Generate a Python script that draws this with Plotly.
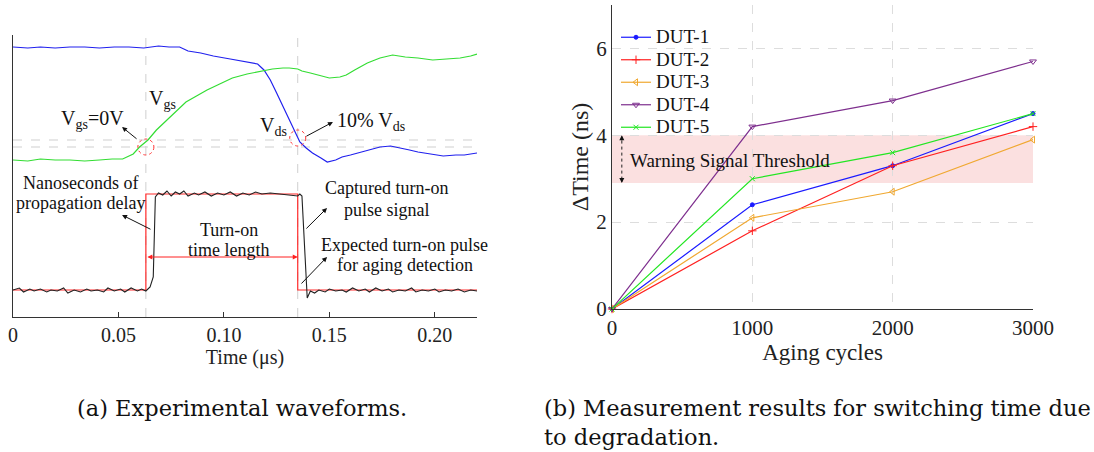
import plotly.graph_objects as go

W, H = 1094, 452
FONT = "Liberation Serif"

# ---------------- (a) waveforms (time in us, level in arbitrary units) -------------
vds_t = [0, 0.007, 0.013, 0.020, 0.027, 0.034, 0.041, 0.048, 0.055, 0.062, 0.069, 0.074, 0.079,
         0.083, 0.089, 0.095, 0.103, 0.112, 0.116, 0.119, 0.122, 0.125, 0.128, 0.131, 0.134,
         0.136, 0.139, 0.142, 0.146, 0.149, 0.153, 0.156, 0.160, 0.165, 0.169, 0.174, 0.179,
         0.184, 0.188, 0.192, 0.198, 0.204, 0.210, 0.214, 0.220]
vds_v = [270, 269, 270, 269, 270, 270, 269, 270, 270, 269, 271, 270, 270,
         266, 264, 261, 258, 255, 253, 247, 237, 224, 211, 197, 185,
         175, 169, 164, 159, 155, 157, 160, 162, 165, 167, 170, 171,
         169, 167, 165, 163, 161, 162, 162, 164]

vgs_t = [0, 0.007, 0.013, 0.020, 0.027, 0.034, 0.041, 0.047, 0.052, 0.057, 0.060, 0.064, 0.068,
         0.073, 0.078, 0.082, 0.087, 0.092, 0.098, 0.104, 0.111, 0.118, 0.123, 0.128, 0.131,
         0.135, 0.137, 0.141, 0.146, 0.150, 0.155, 0.158, 0.162, 0.168, 0.174, 0.180, 0.186,
         0.192, 0.199, 0.205, 0.212, 0.217, 0.220]
vgs_v = [157, 156, 158, 157, 157, 156, 157, 158, 158, 163, 170, 177, 187,
         197, 206, 215, 221, 227, 233, 239, 243, 246, 248, 249, 249,
         248, 246, 244, 241, 239, 240, 242, 247, 254, 259, 262, 260,
         259, 257, 258, 259, 261, 263]

exp_t = [0, 0.063, 0.063, 0.135, 0.135, 0.220]
exp_v = [27, 27, 123, 123, 27, 27]

cap_t = [0.000, 0.003, 0.005, 0.008, 0.010, 0.013, 0.016, 0.018, 0.021, 0.024, 0.026, 0.029,
         0.032, 0.035, 0.037, 0.040, 0.043, 0.045, 0.048, 0.051, 0.053, 0.056, 0.059, 0.061,
         0.063, 0.065, 0.0665, 0.0675, 0.069, 0.071, 0.073, 0.075, 0.077, 0.079, 0.081, 0.083,
         0.086, 0.088, 0.091, 0.094, 0.097, 0.100, 0.103, 0.106, 0.109, 0.112, 0.115, 0.118,
         0.122, 0.126, 0.130, 0.133, 0.135, 0.136, 0.137, 0.1385, 0.1395, 0.141, 0.143, 0.145,
         0.148, 0.150, 0.153, 0.156, 0.158, 0.161, 0.164, 0.167, 0.169, 0.172, 0.175, 0.178,
         0.180, 0.183, 0.186, 0.189, 0.191, 0.194, 0.197, 0.200, 0.202, 0.205, 0.208, 0.211,
         0.214, 0.217, 0.220]
cap_v = [27, 29, 25, 28, 26, 28, 25, 27, 26, 29, 24, 27,
         25, 28, 26, 27, 25, 29, 26, 28, 25, 29, 26, 28,
         26, 30, 40, 120, 124, 122, 126, 121, 125, 123, 126, 121,
         124, 122, 125, 121, 124, 122, 125, 121, 124, 122, 125, 123,
         124, 123, 122, 122, 121, 123, 121, 60, 19, 26, 24, 27,
         25, 28, 26, 27, 25, 29, 26, 28, 25, 29, 26, 28,
         25, 27, 26, 29, 25, 27, 26, 28, 25, 27, 26, 28,
         25, 27, 26]

t_ticks = [0, 0.05, 0.10, 0.15, 0.20]
t_tick_text = ["0", "0.05", "0.10", "0.15", "0.20"]
t_marks = [0.063, 0.135]          # vertical dashed reference times
level_marks = [170, 177]          # horizontal dashed reference levels

# ---------------- (b) switching time vs aging ----------------
cycles = [0, 1000, 2000, 3000]
duts = ["DUT-1", "DUT-2", "DUT-3", "DUT-4", "DUT-5"]
dt_values = [
    [0, 2.4, 3.3, 4.5],
    [0, 1.8, 3.3, 4.2],
    [0, 2.1, 2.7, 3.9],
    [0, 4.2, 4.8, 5.7],
    [0, 3.0, 3.6, 4.5],
]
dut_colors = ["#1a1aff", "#ff2020", "#f0a830", "#7e2f8e", "#22e622"]
dut_symbols = ["circle", "cross-thin", "triangle-left-open", "triangle-down-open", "x-thin"]
dut_sizes = [4, 6, 6, 6, 5]
warn_low, warn_high = 2.9, 4.0

fig = go.Figure()

# (a) traces
fig.add_trace(go.Scatter(x=vds_t, y=vds_v, mode="lines", line=dict(color="#2020ee", width=1.2),
                         showlegend=False, xaxis="x", yaxis="y"))
fig.add_trace(go.Scatter(x=vgs_t, y=vgs_v, mode="lines", line=dict(color="#33dd33", width=1.2),
                         showlegend=False, xaxis="x", yaxis="y"))
fig.add_trace(go.Scatter(x=exp_t, y=exp_v, mode="lines", line=dict(color="#ff2a2a", width=1.2),
                         showlegend=False, xaxis="x", yaxis="y"))
fig.add_trace(go.Scatter(x=cap_t, y=cap_v, mode="lines", line=dict(color="#222222", width=1.1),
                         showlegend=False, xaxis="x", yaxis="y"))

# (b) traces
for name, vals, col, sym, sz in zip(duts, dt_values, dut_colors, dut_symbols, dut_sizes):
    fig.add_trace(go.Scatter(
        x=cycles, y=vals, mode="lines+markers",
        name="<span style='font-size:19px'>%s</span>" % name,
        line=dict(color=col, width=1.2),
        marker=dict(symbol=sym, size=sz, color=col, line=dict(color=col, width=1)),
        cliponaxis=False, xaxis="x2", yaxis="y2"))

shapes = []
# (a) reference lines
for tm in t_marks:
    shapes.append(dict(type="line", xref="x", yref="y", x0=tm, x1=tm, y0=0, y1=282,
                       line=dict(color="#cfcfcf", width=1, dash="dash"), layer="below"))
for lm in level_marks:
    shapes.append(dict(type="line", xref="x", yref="y", x0=0, x1=0.22, y0=lm, y1=lm,
                       line=dict(color="#cfcfcf", width=1, dash="dash"), layer="below"))
# red dotted circles
for (cx, cy) in [(0.063, 170), (0.135, 179)]:
    shapes.append(dict(type="circle", xref="x", yref="y", x0=cx - 0.0038, x1=cx + 0.0038,
                       y0=cy - 8, y1=cy + 8, line=dict(color="#ff3333", width=1, dash="dot")))
# (b) warning band
shapes.append(dict(type="rect", xref="x2", yref="y2", x0=0, x1=3000, y0=warn_low, y1=warn_high,
                   fillcolor="#fbe0e0", line=dict(width=0), layer="below"))
shapes.append(dict(type="line", xref="x2", yref="y2", x0=70, x1=70, y0=warn_low + 0.08, y1=warn_high - 0.08,
                   line=dict(color="#222222", width=1, dash="dot")))

ann = []
def arrow(x, y, ax, ay, color="#111111", xr="x", yr="y", side="end"):
    ann.append(dict(x=x, y=y, ax=ax, ay=ay, xref=xr, yref=yr, axref=xr, ayref=yr, text="",
                    showarrow=True, arrowhead=2, startarrowhead=2, arrowsize=1, startarrowsize=1,
                    arrowwidth=1, arrowcolor=color, arrowside=side, standoff=0, startstandoff=0))

def label(x, y, text, size=19, xr="x", yr="y", xanchor="center"):
    ann.append(dict(x=x, y=y, xref=xr, yref=yr, text=text, showarrow=False, xanchor=xanchor,
                    yanchor="middle", font=dict(family=FONT, size=size, color="#111111")))

arrow(0.0517, 190, 0.0593, 177)
arrow(0.1517, 195, 0.1384, 180)
arrow(0.0517, 102, 0.0659, 87)
arrow(0.1489, 109, 0.1384, 87)
arrow(0.1489, 60, 0.1361, 32)
arrow(0.135, 60, 0.063, 60, color="#ff2020", side="end+start")
arrow(70, warn_high, 70, warn_high - 0.15, xr="x2", yr="y2")
arrow(70, warn_low, 70, warn_low + 0.15, xr="x2", yr="y2")

label(0.0375, 197, "V<sub>gs</sub>=0V", size=20)
label(0.0707, 217, "V<sub>gs</sub>", size=20)
label(0.1233, 190, "V<sub>ds</sub>", size=20)
label(0.1697, 195, "10% V<sub>ds</sub>", size=20)
label(0.0322, 134, "Nanoseconds of", size=18)
label(0.0322, 114, "propagation delay", size=18)
label(0.1024, 87, "Turn-on", size=18)
label(0.1024, 67, "time length", size=18)
label(0.1773, 129, "Captured turn-on", size=18)
label(0.1773, 107, "pulse signal", size=18)
label(0.1858, 72, "Expected turn-on pulse", size=18)
label(0.1858, 52, "for aging detection", size=18)
label(114, 3.43, "Warning Signal Threshold", size=19, xr="x2", yr="y2", xanchor="left")

CAP = "DejaVu Serif"
for (px, py, txt) in [(75, 408, "(a) Experimental waveforms."),
                      (542, 408, "(b) Measurement results for switching time due"),
                      (542, 437, "to degradation.")]:
    ann.append(dict(x=px / W, y=(H - py) / H, xref="paper", yref="paper", text=txt,
                    showarrow=False, xanchor="left", yanchor="middle",
                    font=dict(family=CAP, size=22.5, color="#111111")))

axis_font = dict(family=FONT, size=20, color="#222222")
fig.update_layout(
    width=W, height=H, margin=dict(l=0, r=0, t=0, b=0, autoexpand=False),
    paper_bgcolor="white", plot_bgcolor="white",
    font=dict(family=FONT, color="#222222"),
    shapes=shapes, annotations=ann,
    xaxis=dict(domain=[13 / W, 477 / W], range=[0, 0.22], tickvals=t_ticks, ticktext=t_tick_text,
               showline=True, linecolor="#333333", linewidth=1.2, ticks="inside", ticklen=5,
               tickcolor="#333333", showgrid=False, zeroline=False, tickfont=axis_font,
               title=dict(text="Time (μs)", font=dict(family=FONT, size=20), standoff=4),
               automargin=False, anchor="y"),
    yaxis=dict(domain=[(H - 317) / H, (H - 35) / H], range=[0, 282], showline=True,
               linecolor="#333333", linewidth=1.2, showticklabels=False, ticks="",
               showgrid=False, zeroline=False, automargin=False, anchor="x"),
    xaxis2=dict(domain=[612 / W, 1033 / W], range=[0, 3000], tickvals=cycles,
                showline=True, linecolor="#333333", linewidth=1.2, ticks="",
                showgrid=True, gridcolor="#dddddd", griddash="dash", gridwidth=1,
                zeroline=False, tickfont=dict(family=FONT, size=21, color="#222222"),
                title=dict(text="Aging cycles", font=dict(family=FONT, size=23), standoff=2),
                automargin=False, anchor="y2"),
    yaxis2=dict(domain=[(H - 309) / H, (H - 5) / H], range=[0, 7], tickvals=[0, 2, 4, 6],
                showline=True, linecolor="#333333", linewidth=1.2, ticks="",
                showgrid=True, gridcolor="#dddddd", griddash="dash", gridwidth=1,
                zeroline=False, tickfont=dict(family=FONT, size=21, color="#222222"),
                title=dict(text="ΔTime (ns)", font=dict(family=FONT, size=24), standoff=0),
                automargin=False, anchor="x2"),
    legend=dict(x=616 / W, y=(H - 21) / H, xanchor="left", yanchor="top",
                bgcolor="rgba(0,0,0,0)", font=dict(family=FONT, size=15, color="#111111"),
                tracegroupgap=0),
)

fig.write_html("out.html")
